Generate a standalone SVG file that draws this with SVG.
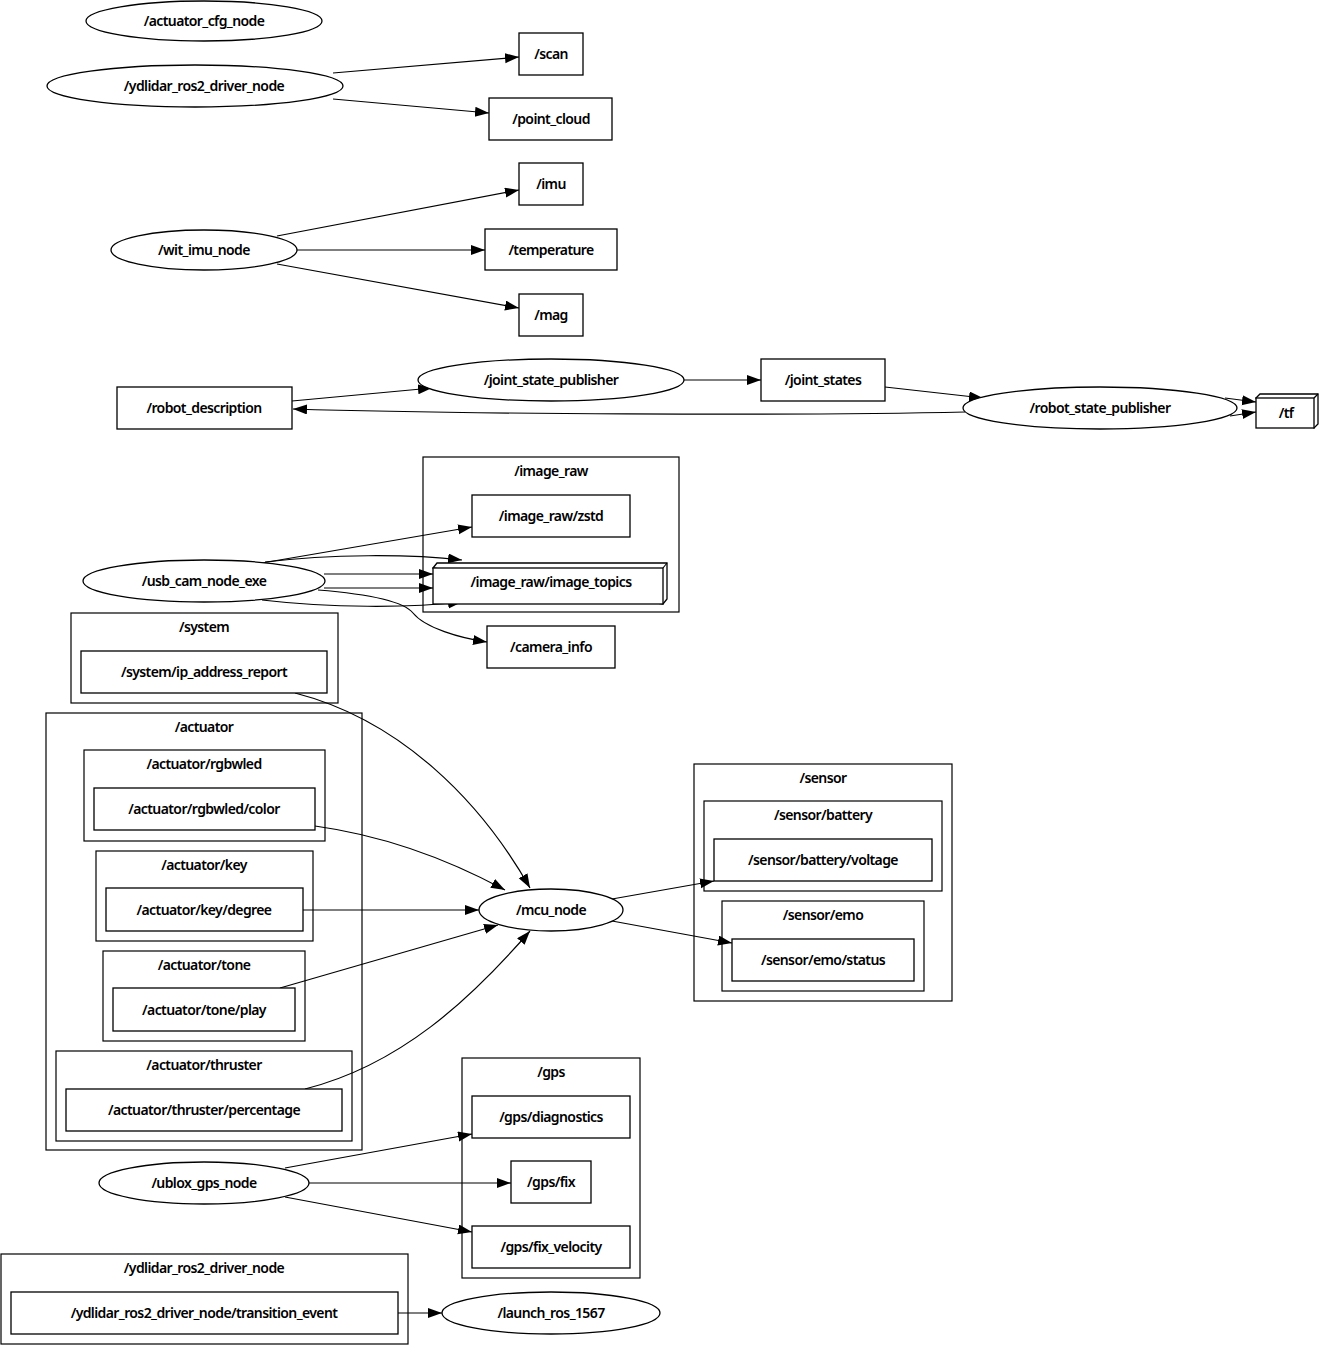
<svg xmlns="http://www.w3.org/2000/svg" width="1320" height="1345" viewBox="0 0 1320 1345">
<style>
text{font-family:"Noto Sans","Open Sans",sans-serif;font-size:14px;font-weight:600;text-anchor:middle;letter-spacing:-0.6px;fill:#000}
.n{fill:#fff;stroke:#000;stroke-width:1.3}
.c{fill:none;stroke:#000;stroke-width:1.2}
.e{fill:none;stroke:#000;stroke-width:1.2;marker-end:url(#a)}
</style>
<defs><marker id="a" markerUnits="userSpaceOnUse" markerWidth="16" markerHeight="12" refX="14" refY="5" orient="auto"><path d="M0,0 L14,5 L0,10 Z" fill="#000"/></marker></defs>
<rect width="1320" height="1345" fill="#fff"/>
<g id="clusters">
<rect class="c" x="423" y="457" width="256" height="155"/><text x="551" y="476">/image_raw</text>
<rect class="c" x="71" y="613" width="267" height="90"/><text x="204" y="632">/system</text>
<rect class="c" x="46" y="713" width="316" height="437"/><text x="204" y="732">/actuator</text>
<rect class="c" x="84" y="750" width="241" height="91"/><text x="204" y="769">/actuator/rgbwled</text>
<rect class="c" x="96" y="851" width="217" height="90"/><text x="204" y="870">/actuator/key</text>
<rect class="c" x="103" y="951" width="202" height="90"/><text x="204" y="970">/actuator/tone</text>
<rect class="c" x="56" y="1051" width="296" height="90"/><text x="204" y="1070">/actuator/thruster</text>
<rect class="c" x="694" y="764" width="258" height="237"/><text x="823" y="783">/sensor</text>
<rect class="c" x="704" y="801" width="238" height="90"/><text x="823" y="820">/sensor/battery</text>
<rect class="c" x="722" y="901" width="202" height="90"/><text x="823" y="920">/sensor/emo</text>
<rect class="c" x="462" y="1058" width="178" height="220"/><text x="551" y="1077">/gps</text>
<rect class="c" x="1" y="1254" width="407" height="90"/><text x="204" y="1273">/ydlidar_ros2_driver_node</text>
</g>
<g id="edges">
<line class="e" x1="333" y1="73" x2="519" y2="57"/>
<line class="e" x1="333" y1="99" x2="489" y2="113"/>
<line class="e" x1="277" y1="236" x2="519" y2="190"/>
<line class="e" x1="297" y1="250" x2="485" y2="250"/>
<line class="e" x1="277" y1="264" x2="519" y2="308"/>
<line class="e" x1="292" y1="401" x2="432" y2="388"/>
<line class="e" x1="684" y1="380" x2="761" y2="380"/>
<line class="e" x1="885" y1="387" x2="983" y2="398"/>
<path class="e" d="M965,412 C800,416 450,414 293,409"/>
<line class="e" x1="1225" y1="398" x2="1256" y2="402"/>
<line class="e" x1="1230" y1="416" x2="1256" y2="412"/>
<line class="e" x1="262" y1="563" x2="472" y2="527"/>
<path class="e" d="M265,562 C330,554 410,554 462,560"/>
<line class="e" x1="324" y1="574" x2="433" y2="574"/>
<line class="e" x1="324" y1="588" x2="433" y2="588"/>
<path class="e" d="M262,600 C330,608 410,608 462,602"/>
<path class="e" d="M318,590 C380,595 405,603 413,613 C425,628 460,638 487,642"/>
<path class="e" d="M295,693 C400,720 480,800 530,888"/>
<path class="e" d="M315,826 C380,835 440,855 505,890"/>
<line class="e" x1="303" y1="910" x2="479" y2="910"/>
<line class="e" x1="280" y1="988" x2="498" y2="925"/>
<path class="e" d="M305,1089 C400,1065 470,1000 530,931"/>
<line class="e" x1="612" y1="899" x2="714" y2="881"/>
<line class="e" x1="612" y1="921" x2="732" y2="943"/>
<line class="e" x1="285" y1="1168" x2="472" y2="1134"/>
<line class="e" x1="308" y1="1183" x2="511" y2="1183"/>
<line class="e" x1="285" y1="1197" x2="472" y2="1232"/>
<line class="e" x1="398" y1="1313" x2="442" y2="1313"/>
</g>
<g id="actuator_cfg_node"><ellipse class="n" cx="204" cy="21" rx="118" ry="20"/><text x="204" y="26">/actuator_cfg_node</text></g>
<g id="ydlidar_ros2_driver_node"><ellipse class="n" cx="195" cy="86" rx="148" ry="21"/><text x="204" y="91">/ydlidar_ros2_driver_node</text></g>
<g id="scan"><rect class="n" x="519" y="33" width="64" height="42"/><text x="551" y="59">/scan</text></g>
<g id="point_cloud"><rect class="n" x="489" y="98" width="123" height="42"/><text x="551" y="124">/point_cloud</text></g>
<g id="imu"><rect class="n" x="519" y="163" width="64" height="42"/><text x="551" y="189">/imu</text></g>
<g id="wit_imu_node"><ellipse class="n" cx="204" cy="250" rx="93" ry="20"/><text x="204" y="255">/wit_imu_node</text></g>
<g id="temperature"><rect class="n" x="485" y="229" width="132" height="41"/><text x="551" y="255">/temperature</text></g>
<g id="mag"><rect class="n" x="519" y="294" width="64" height="42"/><text x="551" y="320">/mag</text></g>
<g id="robot_description"><rect class="n" x="117" y="387" width="175" height="42"/><text x="204" y="413">/robot_description</text></g>
<g id="joint_state_publisher"><ellipse class="n" cx="551" cy="380" rx="133" ry="21"/><text x="551" y="385">/joint_state_publisher</text></g>
<g id="joint_states"><rect class="n" x="761" y="359" width="124" height="42"/><text x="823" y="385">/joint_states</text></g>
<g id="robot_state_publisher"><ellipse class="n" cx="1100" cy="408" rx="137" ry="21"/><text x="1100" y="413">/robot_state_publisher</text></g>
<g id="tf"><path class="n" d="M1256,398 L1260,394 L1318,394 L1318,424 L1314,428 Z"/><rect class="n" x="1256" y="398" width="58" height="30"/><line class="c" x1="1314" y1="398" x2="1318" y2="394"/><text x="1286" y="418">/tf</text></g>
<g id="image_raw_zstd"><rect class="n" x="472" y="495" width="158" height="42"/><text x="551" y="521">/image_raw/zstd</text></g>
<g id="image_raw_image_topics"><path class="n" d="M433,568 L437,563 L667,563 L667,599 L663,604 Z"/><rect class="n" x="433" y="568" width="230" height="36"/><line class="c" x1="663" y1="568" x2="667" y2="563"/><text x="551" y="587">/image_raw/image_topics</text></g>
<g id="usb_cam_node_exe"><ellipse class="n" cx="204" cy="581" rx="121" ry="21"/><text x="204" y="586">/usb_cam_node_exe</text></g>
<g id="camera_info"><rect class="n" x="487" y="626" width="128" height="42"/><text x="551" y="652">/camera_info</text></g>
<g id="system_ip_address_report"><rect class="n" x="81" y="651" width="246" height="42"/><text x="204" y="677">/system/ip_address_report</text></g>
<g id="actuator_rgbwled_color"><rect class="n" x="94" y="788" width="221" height="42"/><text x="204" y="814">/actuator/rgbwled/color</text></g>
<g id="actuator_key_degree"><rect class="n" x="106" y="888" width="197" height="43"/><text x="204" y="915">/actuator/key/degree</text></g>
<g id="actuator_tone_play"><rect class="n" x="113" y="988" width="182" height="43"/><text x="204" y="1015">/actuator/tone/play</text></g>
<g id="actuator_thruster_percentage"><rect class="n" x="66" y="1089" width="276" height="42"/><text x="204" y="1115">/actuator/thruster/percentage</text></g>
<g id="mcu_node"><ellipse class="n" cx="551" cy="910" rx="72" ry="21"/><text x="551" y="915">/mcu_node</text></g>
<g id="sensor_battery_voltage"><rect class="n" x="714" y="839" width="218" height="42"/><text x="823" y="865">/sensor/battery/voltage</text></g>
<g id="sensor_emo_status"><rect class="n" x="732" y="939" width="182" height="42"/><text x="823" y="965">/sensor/emo/status</text></g>
<g id="gps_diagnostics"><rect class="n" x="472" y="1096" width="158" height="42"/><text x="551" y="1122">/gps/diagnostics</text></g>
<g id="gps_fix"><rect class="n" x="511" y="1161" width="80" height="42"/><text x="551" y="1187">/gps/fix</text></g>
<g id="gps_fix_velocity"><rect class="n" x="472" y="1226" width="158" height="42"/><text x="551" y="1252">/gps/fix_velocity</text></g>
<g id="ublox_gps_node"><ellipse class="n" cx="204" cy="1183" rx="105" ry="21"/><text x="204" y="1188">/ublox_gps_node</text></g>
<g id="transition_event"><rect class="n" x="11" y="1292" width="387" height="42"/><text x="204" y="1318">/ydlidar_ros2_driver_node/transition_event</text></g>
<g id="launch_ros_1567"><ellipse class="n" cx="551" cy="1313" rx="109" ry="21"/><text x="551" y="1318">/launch_ros_1567</text></g>
</svg>
